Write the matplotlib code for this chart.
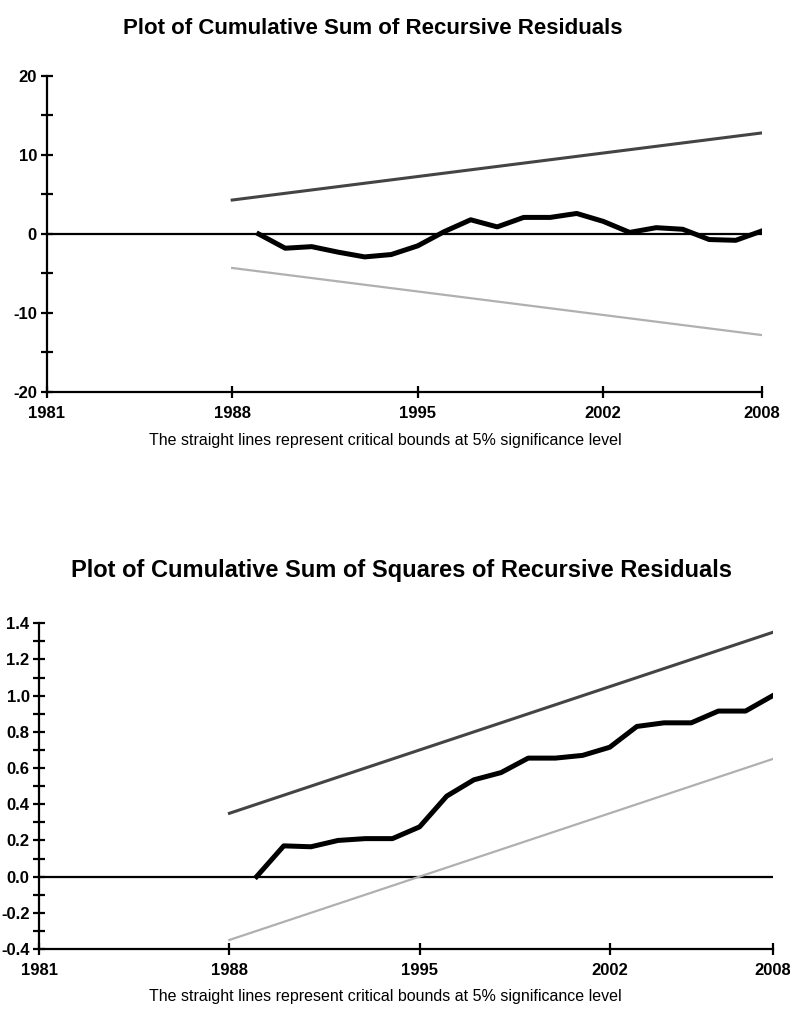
import matplotlib
matplotlib.use("Agg")
import matplotlib.pyplot as plt
from matplotlib.ticker import MultipleLocator

plt.rcParams["font.family"] = ["Liberation Sans", "DejaVu Sans"]
plt.rcParams["axes.unicode_minus"] = False

# CUSUM of recursive residuals
cusum_years = list(range(1989, 2009))
cusum = [0.0, -1.8, -1.6, -2.3, -2.9, -2.6, -1.5, 0.3, 1.8, 0.9,
         2.1, 2.1, 2.6, 1.6, 0.2, 0.8, 0.6, -0.7, -0.8, 0.4]
cusum_bound_years = [1988, 2008]
cusum_upper = [4.3, 12.8]
cusum_lower = [-4.3, -12.8]

# CUSUM of squares
cusumsq_years = list(range(1989, 2009))
cusumsq = [0.0, 0.17, 0.165, 0.20, 0.21, 0.21, 0.275, 0.445, 0.535, 0.575,
           0.655, 0.655, 0.67, 0.715, 0.83, 0.85, 0.85, 0.915, 0.915, 1.0]
cusumsq_bound_years = [1988, 2008]
cusumsq_upper = [0.35, 1.35]
cusumsq_lower = [-0.35, 0.65]

year_ticks = [1981, 1988, 1995, 2002, 2008]
caption = "The straight lines represent critical bounds at 5% significance level"

W, H = 790, 1009
fig = plt.figure(figsize=(W / 100, H / 100), dpi=100)


def px_axes(x0, x1, ytop, ybot):
    return fig.add_axes([x0 / W, 1 - ybot / H, (x1 - x0) / W, (ybot - ytop) / H])


def style(ax, ylim, major, minor, fmt):
    ax.set_xlim(1981, 2008)
    ax.set_ylim(*ylim)
    for s in ("top", "right"):
        ax.spines[s].set_visible(False)
    for s in ("left", "bottom"):
        ax.spines[s].set_linewidth(1.6)
        ax.spines[s].set_color("black")
    ax.set_xticks(year_ticks)
    ax.yaxis.set_major_locator(MultipleLocator(major))
    ax.yaxis.set_minor_locator(MultipleLocator(minor))
    ax.yaxis.set_major_formatter(fmt)
    ax.tick_params(direction="inout", length=8, width=1.6, colors="black",
                   labelsize=12, pad=3)
    ax.tick_params(axis="x", pad=6)
    ax.tick_params(which="minor", direction="inout", length=8, width=1.6)
    for lab in ax.get_xticklabels() + ax.get_yticklabels():
        lab.set_fontweight("bold")
    ax.axhline(0, color="black", lw=1.6, zorder=2)


# top panel
ax1 = px_axes(46.7, 762.2, 76, 392)
style(ax1, (-20, 20), 10, 5, "{x:.0f}")
ax1.plot(cusum_bound_years, cusum_upper, color="#444444", lw=2.2)
ax1.plot(cusum_bound_years, cusum_lower, color="#b0b0b0", lw=1.6)
ax1.plot(cusum_years, cusum, color="black", lw=3.6, zorder=3)
fig.text(373 / W, 1 - 28 / H, "Plot of Cumulative Sum of Recursive Residuals",
         ha="center", va="center", fontsize=16, fontweight="bold")
fig.text(385 / W, 1 - 441 / H, caption, ha="center", va="center", fontsize=11.5)

# bottom panel
ax2 = px_axes(39.3, 772.7, 623.3, 949)
style(ax2, (-0.4, 1.4), 0.2, 0.1, "{x:.1f}")
ax2.plot(cusumsq_bound_years, cusumsq_upper, color="#444444", lw=2.2)
ax2.plot(cusumsq_bound_years, cusumsq_lower, color="#b0b0b0", lw=1.6)
ax2.plot(cusumsq_years, cusumsq, color="black", lw=3.6, zorder=3)
fig.text(401 / W, 1 - 570 / H, "Plot of Cumulative Sum of Squares of Recursive Residuals",
         ha="center", va="center", fontsize=17, fontweight="bold")
fig.text(385 / W, 1 - 996 / H, caption, ha="center", va="center", fontsize=11.5)

fig.savefig("out.png", dpi=100)
